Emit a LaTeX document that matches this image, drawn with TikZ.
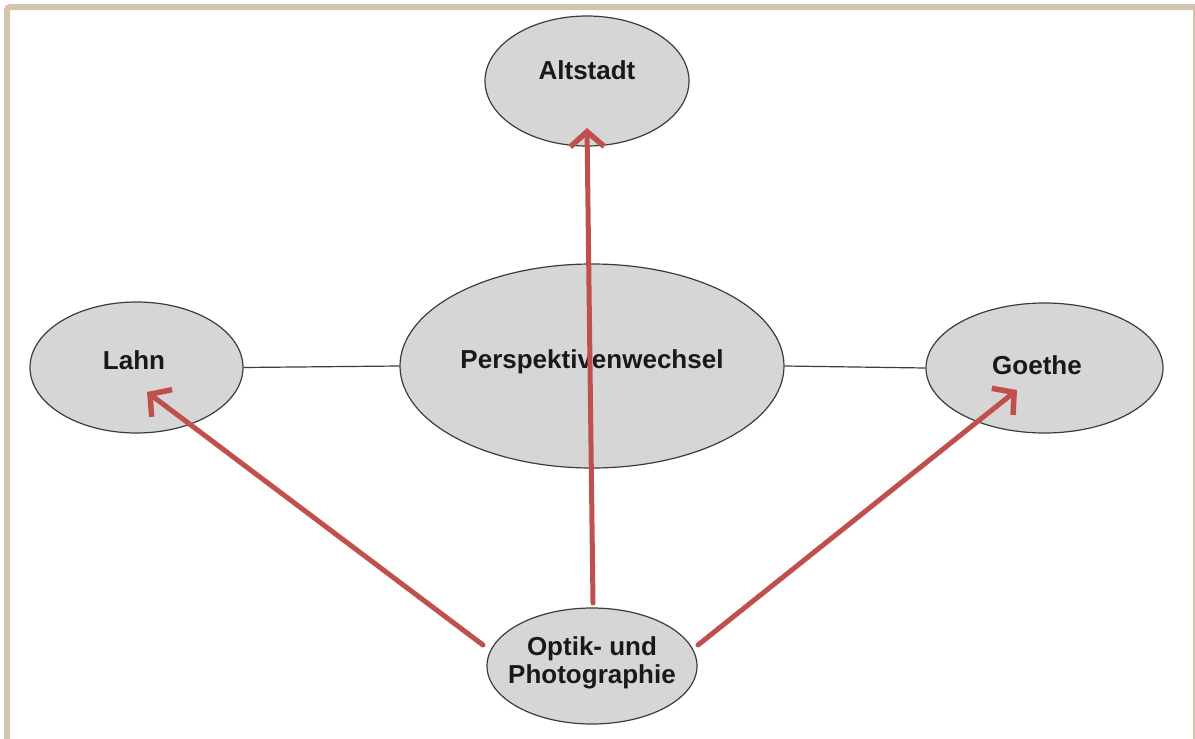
\documentclass[tikz,border=0pt]{standalone}
\usepackage{fontspec}
\setmainfont{Liberation Sans}
\usetikzlibrary{shapes.geometric,arrows.meta,calc}
\definecolor{frame}{RGB}{212,197,174}
\definecolor{bubble}{RGB}{214,214,214}
\definecolor{edge}{RGB}{60,60,60}
\definecolor{arrowred}{RGB}{192,80,77}
\tikzset{
  bubblebox/.style={ellipse, draw=edge, line width=1.2, fill=bubble, inner sep=0pt},
  bubbletext/.style={font=\fontsize{26}{28}\selectfont\bfseries, text=black!90, align=center, inner sep=0pt},
  thinlink/.style={draw=edge, line width=1.2},
  redarrow/.style={draw=arrowred, line width=5, line cap=round, -{Straight Barb[length=15pt,width=34pt,line width=5.5pt]}}
}
\begin{document}
\begin{tikzpicture}[x=1pt,y=-1pt]
\useasboundingbox (0,0) rectangle (1195,739);
\fill[white] (0,0) rectangle (1195,739);
% frame
\draw[frame, line width=6, rounded corners=3] (7,745) -- (7,7) -- (1200,7);
\draw[frame, line width=1.5] (1194,7) -- (1194,745);
% ellipses
\node[bubblebox, minimum width=204, minimum height=130] (alt) at (587,81) {};
\node[bubblebox, minimum width=213, minimum height=131] (lahn) at (136.5,367.5) {};
\node[bubblebox, minimum width=384, minimum height=204] (persp) at (592,366) {};
\node[bubblebox, minimum width=237, minimum height=130] (goethe) at (1044.5,368) {};
\node[bubblebox, minimum width=210, minimum height=116] (optik) at (592,666) {};
% texts
\node[bubbletext] (altT) at (587,70) {Altstadt};
\node[bubbletext] (lahnT) at (134,360) {Lahn};
\node[bubbletext] (perspT) at (592,362) {Perspektivenwechsel};
\node[bubbletext] (goetheT) at (1037,365) {Goethe};
\node[bubbletext] (optikT) at (592,663) {Optik- und\\Photographie};
% black links
\draw[thinlink] (lahn.east) -- (persp.west);
\draw[thinlink] (persp.east) -- (goethe.west);
% red arrows
\draw[redarrow] ($(optik)+(1,-63)$) -- ($(alt)+(0,47)$);
\draw[redarrow] ($(optik)+(-109,-21)$) -- ($(lahn)+(10.5,24.5)$);
\draw[redarrow] ($(optik)+(106,-21)$) -- ($(goethe)+(-27.5,22)$);
\end{tikzpicture}
\end{document}
